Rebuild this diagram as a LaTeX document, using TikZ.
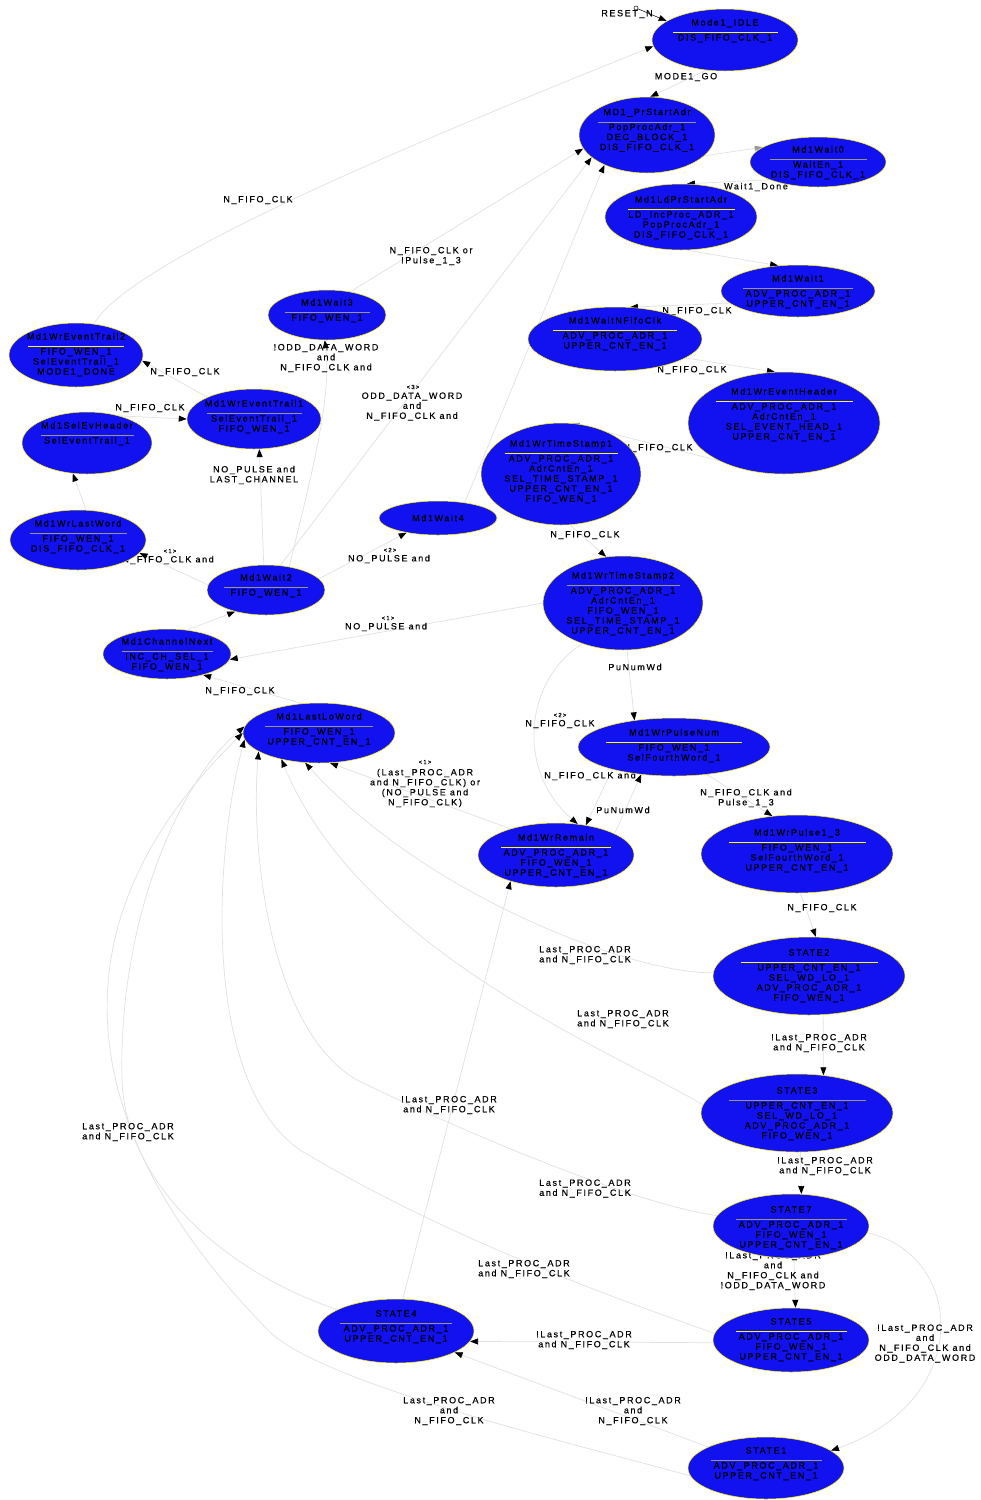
\documentclass[tikz,border=0pt]{standalone}
\usepackage{fontspec}
\newfontfamily\lf{Liberation Sans}[LetterSpace=18,FakeBold=0.4]
\usetikzlibrary{shapes.geometric,arrows.meta}
\definecolor{stfill}{RGB}{18,18,240}
\definecolor{ruleY}{RGB}{255,255,0}
\definecolor{ruleG}{RGB}{150,150,130}
\definecolor{edgec}{RGB}{225,225,225}
\pgfdeclarelayer{bgl}\pgfdeclarelayer{edges}\pgfdeclarelayer{labels}
\pgfsetlayers{bgl,edges,labels,main}
\newcommand{\stx}[4]{\begin{tabular}{@{}c@{}}#1\\[-2.5pt]\textcolor{#2}{\rule{#3pt}{0.8pt}}\\[-2.5pt]#4\end{tabular}}
\newcommand{\St}[7]{%
 \node[stshape,minimum width=#4*2pt,minimum height=#5*2pt] (#1) at (#2,#3) {};
 \node[sttext] (#1-t) at (#2,#6) {#7};}
\tikzset{
 stshape/.style={ellipse,draw=yellow,line width=0.5pt,fill=stfill,inner sep=0pt},
 sttext/.style={font=\lf\fontsize{9}{10}\selectfont,inner sep=0pt},
 lbl/.style={font=\lf\fontsize{9}{10}\selectfont,align=center,inner sep=0pt},
 sml/.style={font=\lf\fontsize{6}{7}\selectfont,inner sep=0pt},
 edge/.style={draw=edgec,line width=0.7pt,-{Triangle[length=8pt,width=6pt,color=black]}},
 edgeg/.style={draw=edgec,line width=0.7pt,-{Triangle[length=8pt,width=5pt,color=black!40]}},
 initc/.style={circle,draw=black,fill=white,minimum size=4pt,inner sep=0pt,line width=0.5pt},
}
\begin{document}
\begin{tikzpicture}[x=1pt,y=-1pt]
\begin{pgfonlayer}{bgl}
\fill[white] (0,0) rectangle (981,1500);
\end{pgfonlayer}
\useasboundingbox (0,0) rectangle (981,1500);
% states
\St{IDLE}{725}{40}{73}{31}{31}{\stx{Mode1\_IDLE}{ruleY}{105}{DIS\_FIFO\_CLK\_1}}
\St{PrStart}{647}{135}{68}{38}{130.5}{\stx{MD1\_PrStartAdr}{ruleG}{98}{PopProcAdr\_1\\DEC\_BLOCK\_1\\DIS\_FIFO\_CLK\_1}}
\St{Wait0}{818}{162}{68}{25}{163}{\stx{Md1Wait0}{ruleG}{97}{WaitEn\_1\\DIS\_FIFO\_CLK\_1}}
\St{LdPr}{681}{217}{76}{33}{218}{\stx{Md1LdPrStartAdr}{ruleY}{107}{LD\_IncProc\_ADR\_1\\PopProcAdr\_1\\DIS\_FIFO\_CLK\_1}}
\St{Wait1}{798}{291}{77}{26}{292}{\stx{Md1Wait1}{ruleG}{110}{ADV\_PROC\_ADR\_1\\UPPER\_CNT\_EN\_1}}
\St{WaitNF}{615}{339}{87}{32}{334}{\stx{Md1WaitNFifoClk}{ruleY}{124}{ADV\_PROC\_ADR\_1\\UPPER\_CNT\_EN\_1}}
\St{WrEvH}{784}{423}{96}{51}{415}{\stx{Md1WrEventHeader}{ruleY}{137}{ADV\_PROC\_ADR\_1\\AdrCntEn\_1\\SEL\_EVENT\_HEAD\_1\\UPPER\_CNT\_EN\_1}}
\St{TS1}{561}{474}{80}{51}{472}{\stx{Md1WrTimeStamp1}{ruleY}{113}{ADV\_PROC\_ADR\_1\\AdrCntEn\_1\\SEL\_TIME\_STAMP\_1\\UPPER\_CNT\_EN\_1\\FIFO\_WEN\_1}}
\St{W3}{327}{315}{59}{25}{311}{\stx{Md1Wait3}{ruleG}{85}{FIFO\_WEN\_1}}
\St{WET2}{76}{355}{67}{32}{355}{\stx{Md1WrEventTrail2}{ruleY}{96}{FIFO\_WEN\_1\\SelEventTrail\_1\\MODE1\_DONE}}
\St{WET1}{254}{419}{67}{30}{417}{\stx{Md1WrEventTrail1}{ruleG}{95}{SelEventTrail\_1\\FIFO\_WEN\_1}}
\St{SEH}{87}{443}{65}{31}{434}{\stx{Md1SelEvHeader}{ruleG}{93}{SelEventTrail\_1}}
\St{WLW}{78}{540}{68}{30}{537}{\stx{Md1WrLastWord}{ruleG}{97}{FIFO\_WEN\_1\\DIS\_FIFO\_CLK\_1}}
\St{W4}{438}{518}{59}{17}{518}{Md1Wait4}
\St{W2}{266}{590}{59}{25}{586}{\stx{Md1Wait2}{ruleG}{84}{FIFO\_WEN\_1}}
\St{CN}{167}{654}{64}{25}{655}{\stx{Md1ChannelNext}{ruleG}{91}{INC\_CH\_SEL\_1\\FIFO\_WEN\_1}}
\St{TS2}{623}{603}{80}{47}{604}{\stx{Md1WrTimeStamp2}{ruleG}{113}{ADV\_PROC\_ADR\_1\\AdrCntEn\_1\\FIFO\_WEN\_1\\SEL\_TIME\_STAMP\_1\\UPPER\_CNT\_EN\_1}}
\St{PN}{674}{747}{96}{29}{746}{\stx{Md1WrPulseNum}{ruleY}{136}{FIFO\_WEN\_1\\SelFourthWord\_1}}
\St{LLW}{319}{733}{76}{30}{730}{\stx{Md1LastLoWord}{ruleG}{108}{FIFO\_WEN\_1\\UPPER\_CNT\_EN\_1}}
\St{WrRem}{556}{855}{78}{32}{856}{\stx{Md1WrRemain}{ruleY}{110}{ADV\_PROC\_ADR\_1\\FIFO\_WEN\_1\\UPPER\_CNT\_EN\_1}}
\St{P13}{797}{854}{96}{39}{851}{\stx{Md1WrPulse1\_3}{ruleY}{137}{FIFO\_WEN\_1\\SelFourthWord\_1\\UPPER\_CNT\_EN\_1}}
\St{S2}{809}{976}{96}{39}{976}{\stx{STATE2}{ruleY}{137}{UPPER\_CNT\_EN\_1\\SEL\_WD\_LO\_1\\ADV\_PROC\_ADR\_1\\FIFO\_WEN\_1}}
\St{S3}{797}{1113}{96}{39}{1114}{\stx{STATE3}{ruleG}{137}{UPPER\_CNT\_EN\_1\\SEL\_WD\_LO\_1\\ADV\_PROC\_ADR\_1\\FIFO\_WEN\_1}}
\St{S7}{791}{1226}{78}{32}{1228}{\stx{STATE7}{ruleG}{111}{ADV\_PROC\_ADR\_1\\FIFO\_WEN\_1\\UPPER\_CNT\_EN\_1}}
\St{S5}{791}{1340}{78}{32}{1340}{\stx{STATE5}{ruleY}{111}{ADV\_PROC\_ADR\_1\\FIFO\_WEN\_1\\UPPER\_CNT\_EN\_1}}
\St{S4}{396}{1331}{78}{32}{1327}{\stx{STATE4}{ruleG}{112}{ADV\_PROC\_ADR\_1\\UPPER\_CNT\_EN\_1}}
\St{S1}{766}{1468}{78}{31}{1464}{\stx{STATE1}{ruleG}{111}{ADV\_PROC\_ADR\_1\\UPPER\_CNT\_EN\_1}}
\node[initc] (init) at (636,8) {};
% labels
\begin{pgfonlayer}{labels}
\node[lbl] (lReset) at (627,14) {RESET\_N};
\node[lbl] (lGo) at (686,77) {MODE1\_GO};
\node[lbl] (lW1D) at (756,187) {Wait1\_Done};
\node[lbl] (lA) at (697,311) {N\_FIFO\_CLK};
\node[lbl] (lB) at (692,370) {N\_FIFO\_CLK};
\node[lbl] (lC) at (658,448) {N\_FIFO\_CLK};
\node[lbl] (lD) at (585,535) {N\_FIFO\_CLK};
\node[lbl] (lE) at (635,667) {PuNumWd};
\node[sml] (lF0) at (560,715) {<2>};
\node[lbl] (lF) at (560,724) {N\_FIFO\_CLK};
\node[lbl] (lG) at (590,776) {N\_FIFO\_CLK and};
\node[lbl] (lH) at (623,810) {PuNumWd};
\node[lbl] (lI) at (746,798) {N\_FIFO\_CLK and\\Pulse\_1\_3};
\node[lbl] (lJ) at (822,908) {N\_FIFO\_CLK};
\node[lbl] (lK) at (819,1043) {!Last\_PROC\_ADR\\and N\_FIFO\_CLK};
\node[lbl] (lL) at (825,1166) {!Last\_PROC\_ADR\\and N\_FIFO\_CLK};
\node[lbl] (lM) at (773,1271) {!Last\_PROC\_ADR\\and\\N\_FIFO\_CLK and\\!ODD\_DATA\_WORD};
\node[lbl] (lN) at (925,1343.5) {!Last\_PROC\_ADR\\and\\N\_FIFO\_CLK and\\ODD\_DATA\_WORD};
\node[lbl] (lO) at (584,1340) {!Last\_PROC\_ADR\\and N\_FIFO\_CLK};
\node[lbl] (lP) at (633,1411) {!Last\_PROC\_ADR\\and\\N\_FIFO\_CLK};
\node[lbl] (lQ) at (449,1411) {Last\_PROC\_ADR\\and\\N\_FIFO\_CLK};
\node[lbl] (lR) at (585,1188.5) {Last\_PROC\_ADR\\and N\_FIFO\_CLK};
\node[lbl] (lS) at (524,1269) {Last\_PROC\_ADR\\and N\_FIFO\_CLK};
\node[lbl] (lT) at (585,955) {Last\_PROC\_ADR\\and N\_FIFO\_CLK};
\node[lbl] (lU) at (623,1019) {Last\_PROC\_ADR\\and N\_FIFO\_CLK};
\node[lbl] (lV) at (128,1132) {Last\_PROC\_ADR\\and N\_FIFO\_CLK};
\node[lbl] (lW) at (449,1105) {!Last\_PROC\_ADR\\and N\_FIFO\_CLK};
\node[sml] (lX0) at (425,762) {<1>};
\node[lbl] (lX) at (425,788) {(Last\_PROC\_ADR\\and N\_FIFO\_CLK) or\\(NO\_PULSE and\\N\_FIFO\_CLK)};
\node[lbl] (lY) at (258,200) {N\_FIFO\_CLK};
\node[lbl] (lZ) at (431,256) {N\_FIFO\_CLK or\\!Pulse\_1\_3};
\node[lbl] (la) at (326,358) {!ODD\_DATA\_WORD\\and\\N\_FIFO\_CLK and};
\node[sml] (lb0) at (413,387) {<3>};
\node[lbl] (lb) at (412,406.5) {ODD\_DATA\_WORD\\and\\N\_FIFO\_CLK and};
\node[lbl] (lc) at (185,372) {N\_FIFO\_CLK};
\node[lbl] (ld) at (150,408) {N\_FIFO\_CLK};
\node[lbl] (le) at (254,475) {NO\_PULSE and\\LAST\_CHANNEL};
\node[sml] (lf0) at (170,551) {<1>};
\node[lbl] (lf) at (168,560) {N\_FIFO\_CLK and};
\node[sml] (lg0) at (390,550) {<2>};
\node[lbl] (lg) at (389,559) {NO\_PULSE and};
\node[sml] (lh0) at (388,618) {<1>};
\node[lbl] (lh) at (386,627) {NO\_PULSE and};
\node[lbl] (li) at (240,691) {N\_FIFO\_CLK};
\end{pgfonlayer}
% edges
\begin{pgfonlayer}{edges}
\draw[black,line width=0.5pt,-{Triangle[length=8pt,width=6pt,color=black]}] (init) -- (IDLE.162);
\draw[edge] (WET2.60) .. controls (130,260) and (420,140) .. (IDLE.185);
\draw[edge] (IDLE.238) -- (PrStart.85);
\draw[edgeg] (PrStart.-20) -- (Wait0.165);
\draw[edge] (Wait0.200) -- (LdPr.80);
\draw[edge] (LdPr.-80) -- (Wait1.128);
\draw[edge] (Wait1.190) -- (WaitNF.65);
\draw[edge] (WaitNF.-15) -- (WrEvH.100);
\draw[edgeg] (WrEvH.210) -- (TS1.78);
\draw[edge] (TS1.-80) -- (TS2.110);
\draw[edge] (TS2.-85) -- (PN.146);
\draw[edge] (TS2.225) .. controls (525,680) and (515,770) .. (WrRem.55);
\draw[edge] (PN.200) -- (WrRem.45);
\draw[edge] (WrRem.20) -- (PN.220);
\draw[edge] (PN.-40) -- (P13.123);
\draw[edge] (P13.-85) -- (S2.80);
\draw[edge] (S2.-70) -- (S3.55);
\draw[edge] (S3.-85) -- (S7.72);
\draw[edge] (S7.-85) -- (S5.82);
\draw[edge] (S7.-5) .. controls (965,1255) and (975,1400) .. (S1.15);
\draw[edge] (S5.182) -- (S4.-8);
\draw[edge] (S1.160) -- (S4.-20);
\draw[edge] (S4.78) -- (WrRem.-150);
\draw[edge] (WrRem.150) -- (LLW.-70);
\draw[edge] (S2.178) .. controls (640,975) and (430,900) .. (LLW.-115);
\draw[edge] (S3.175) .. controls (610,1050) and (360,950) .. (LLW.-145);
\draw[edge] (S7.172) .. controls (640,1205) and (480,1140) .. (357,1080) .. controls (270,1030) and (250,850) .. (LLW.-163);
\draw[edge] (S5.175) .. controls (620,1300) and (450,1240) .. (300,1150) .. controls (200,1080) and (215,850) .. (LLW.-175);
\draw[edge] (S1.186) .. controls (600,1450) and (320,1385) .. (268,1330) .. controls (150,1210) and (-10,980) .. (LLW.180);
\draw[edge] (S4.160) .. controls (220,1270) and (125,1180) .. (122,1080) .. controls (118,920) and (180,780) .. (LLW.175);
\draw[edge] (LLW.120) -- (CN.-30);
\draw[edge] (TS2.180) -- (CN.-5);
\draw[edge] (CN.50) -- (W2.-145);
\draw[edge] (W2.175) -- (WLW.-12);
\draw[edge] (W2.12) -- (W4.-155);
\draw[edge] (W2.95) -- (WET1.-80);
\draw[edge] (W2.45) .. controls (310,480) and (332,400) .. (W3.-95);
\draw[edge] (W2.60) -- (PrStart.-158);
\draw[edge] (W3.45) -- (PrStart.-168);
\draw[edge] (W4.30) -- (PrStart.-145);
\draw[edge] (WLW.75) -- (SEH.-115);
\draw[edge] (SEH.40) -- (WET1.180);
\draw[edge] (WET1.155) -- (WET2.-5);
\end{pgfonlayer}
\end{tikzpicture}
\end{document}
